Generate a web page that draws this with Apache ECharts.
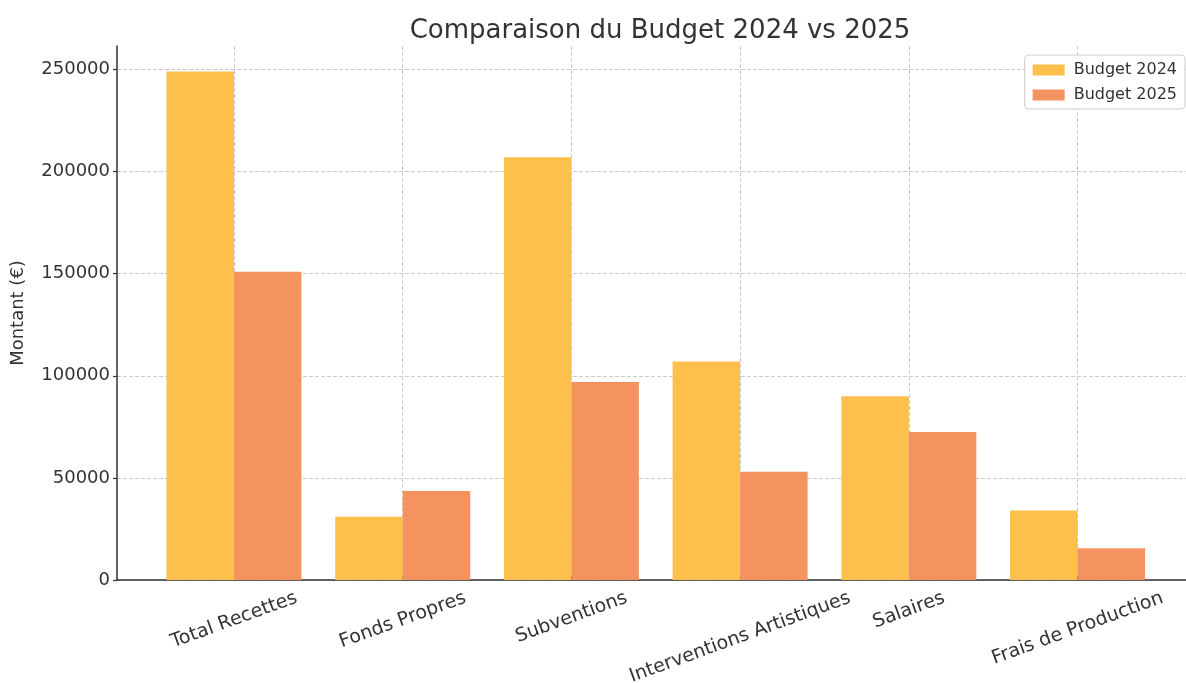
<!DOCTYPE html>
<html>
<head>
<meta charset="utf-8">
<title>Comparaison du Budget 2024 vs 2025</title>
<script src="https://cdn.jsdelivr.net/npm/echarts@6/dist/echarts.min.js"></script>
<style>
  html, body { margin: 0; padding: 0; background: #fff; }
  #chart { width: 1186px; height: 683px; }
</style>
</head>
<body>
<div id="chart"></div>
<script>
const categories = ['Total Recettes', 'Fonds Propres', 'Subventions', 'Interventions Artistiques', 'Salaires', 'Frais de Production'];
const budget2024 = [249000, 31000, 207000, 107000, 90000, 34000];
const budget2025 = [151000, 43600, 97000, 53000, 72500, 15500];
const yTicks = [0, 50000, 100000, 150000, 200000, 250000];
const xTicks = [0, 1, 2, 3, 4, 5];

const FONT = '"DejaVu Sans", "Liberation Sans", sans-serif';
const TEXT = '#333';
const LABEL_SIZE = 19;

// rotated labels: matplotlib centres the rotated box under the tick, so push each label down by half its box
const ctx = document.createElement('canvas').getContext('2d');
ctx.font = LABEL_SIZE + 'px ' + FONT;
const ang = 20 * Math.PI / 180;
const rich = {};
categories.forEach((c, i) => {
    const w = ctx.measureText(c).width;
    const d = (w * Math.sin(ang) + 20 * Math.cos(ang)) / 2;
    rich['c' + i] = {
        fontSize: LABEL_SIZE, fontFamily: FONT, color: TEXT, lineHeight: 21,
        padding: [2 * d * Math.cos(ang), 2 * d * Math.sin(ang), 0, 0]
    };
});

const chart = echarts.init(document.getElementById('chart'));

const option = {
    animation: false,
    backgroundColor: '#fff',
    textStyle: { fontFamily: FONT },
    title: {
        text: 'Comparaison du Budget 2024 vs 2025',
        left: 655,
        textAlign: 'center',
        top: 13,
        textStyle: { fontSize: 26, fontWeight: 'normal', color: TEXT, fontFamily: FONT }
    },
    legend: {
        orient: 'vertical',
        right: 1,
        top: 55,
        padding: [7, 8, 6, 8],
        itemGap: 9,
        itemWidth: 32,
        itemHeight: 11,
        icon: 'rect',
        borderColor: '#ccc',
        borderWidth: 1,
        borderRadius: 4,
        backgroundColor: 'rgba(255,255,255,0.85)',
        textStyle: { fontSize: 16, color: TEXT, fontFamily: FONT, padding: [0, 0, 0, 4] },
        data: ['Budget 2024', 'Budget 2025']
    },
    grid: { left: 117, right: 0, top: 46, bottom: 103, containLabel: false, outerBoundsMode: 'none' },
    xAxis: {
        type: 'value',
        min: -0.6935,
        max: 5.643,
        axisLine: { show: true, onZero: false, lineStyle: { color: '#333', width: 1.5 } },
        axisTick: { show: true, inside: true, length: 4, customValues: xTicks, lineStyle: { color: '#333', width: 1.2 } },
        axisLabel: {
            customValues: xTicks,
            rotate: 20,
            align: 'center',
            verticalAlign: 'middle',
            margin: 8,
            formatter: v => {
                const i = Math.round(v);
                return '{c' + i + '|' + categories[i] + '}';
            },
            rich: rich
        },
        splitLine: { show: true, lineStyle: { color: '#ccc', type: 'dashed', width: 1 } }
    },
    yAxis: {
        type: 'value',
        min: 0,
        max: 261500,
        name: 'Montant (€)',
        nameLocation: 'middle',
        nameGap: 90,
        nameTextStyle: { fontSize: 18, color: TEXT, fontFamily: FONT },
        axisLine: { show: true, onZero: false, lineStyle: { color: '#333', width: 1.5 } },
        axisTick: { show: true, length: 4, customValues: yTicks, lineStyle: { color: '#333', width: 1.2 } },
        axisLabel: {
            customValues: yTicks,
            fontSize: 18,
            color: TEXT,
            margin: 7,
            fontFamily: FONT,
            formatter: v => String(v)
        },
        splitLine: { show: true, lineStyle: { color: '#ccc', type: 'dashed', width: 1 } }
    },
    series: [
        {
            name: 'Budget 2024',
            type: 'bar',
            barWidth: '40%',
            barGap: '0%',
            itemStyle: { color: '#FDC04D' },
            data: budget2024.map((v, i) => [i, v])
        },
        {
            name: 'Budget 2025',
            type: 'bar',
            barWidth: '40%',
            barGap: '0%',
            itemStyle: { color: '#F49260' },
            data: budget2025.map((v, i) => [i, v])
        }
    ]
};

chart.setOption(option);
</script>
</body>
</html>
